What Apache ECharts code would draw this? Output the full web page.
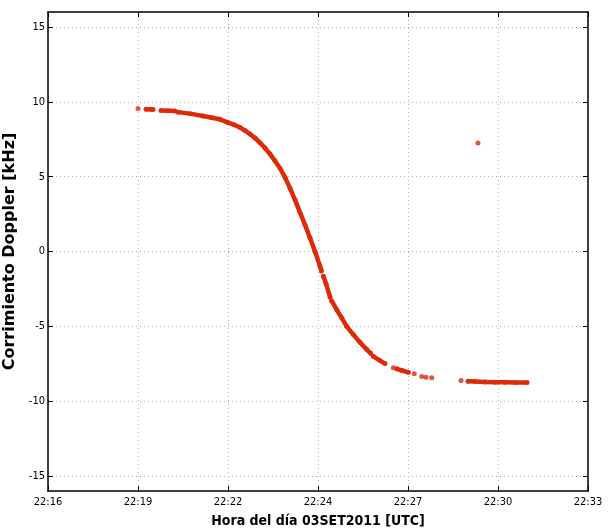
<!DOCTYPE html>
<html lang="es">
<head>
    <meta charset="UTF-8">
    <title>Corrimiento Doppler</title>
    <script src="https://cdn.jsdelivr.net/npm/echarts@6/dist/echarts.min.js"></script>
    <style>
        body { margin: 0; padding: 0; background: #fff; }
        #chart { width: 611px; height: 529px; }
    </style>
</head>
<body>
    <div id="chart"></div>
    <script>
        // hora en minutos despues de las 22:00, null = hueco entre tramos
        const horaMin = [
            18.833, null,
            19.085, 19.211, 19.306, null,
            19.557, 19.778, 19.998, null,
            20.093, 20.470, 20.880, 21.163, 21.415, 21.667, 21.856, 22.044, 22.202, 22.359,
            22.517, 22.674, 22.832, 22.989, 23.147, 23.304, 23.462, 23.618, 23.776, 23.933,
            24.091, 24.248, 24.406, 24.563, 24.610, null,
            24.670, 24.752, 24.880, null,
            24.930, 25.089, 25.250, 25.403, 25.611, 25.822, 26.033, 26.160, null,
            26.241, 26.452, 26.609, null,
            26.871, null,
            26.978, 27.145, 27.343, null,
            27.532, null, 27.765, null, 27.900, null, 28.080, null,
            29.002, null,
            29.222, 29.443, 29.757, 30.072, 30.387, 30.702, 31.080
        ];
        // corrimiento doppler en kHz
        const dopplerKHz = [
            9.55, null,
            9.50, 9.50, 9.49, null,
            9.42, 9.40, 9.38, null,
            9.31, 9.21, 9.05, 8.93, 8.83, 8.61, 8.47, 8.29, 8.08, 7.85,
            7.58, 7.27, 6.91, 6.51, 6.05, 5.56, 4.95, 4.23, 3.45, 2.61,
            1.78, 0.91, 0.00, -0.99, -1.30, null,
            -1.65, -2.15, -3.05, null,
            -3.30, -3.89, -4.45, -5.00, -5.55, -6.07, -6.55, -6.80, null,
            -7.00, -7.29, -7.49, null,
            -7.77, null,
            -7.84, -7.95, -8.07, null,
            -8.17, null, -8.35, null, -8.40, null, -8.44, null,
            -8.62, null,
            -8.67, -8.69, -8.71, -8.73, -8.74, -8.75, -8.75
        ];
        // punto aislado
        const atipicoHora = [29.537];
        const atipicoKHz = [7.25];

        const etiquetasHora = ['22:16', '22:19', '22:22', '22:24', '22:27', '22:30', '22:33'];
        const ticksHora = [16, 18.8333, 21.6667, 24.5, 27.3333, 30.1667, 33];
        const ticksDoppler = [-15, -10, -5, 0, 5, 10, 15];

        const rojo = '#dc2a0a';
        const fuenteEstrecha = "'Liberation Sans Narrow', 'DejaVu Sans Condensed', sans-serif";

        const lineaData = horaMin.map((t, i) => (t === null ? ['-', '-'] : [t, dopplerKHz[i]]));
        const puntosData = horaMin
            .map((t, i) => [t, dopplerKHz[i]])
            .filter(p => p[0] !== null)
            .concat(atipicoHora.map((t, i) => [t, atipicoKHz[i]]));

        const chart = echarts.init(document.getElementById('chart'));

        const gridLine = { show: true, lineStyle: { color: '#b4b4b4', width: 1, type: [1, 3] } };
        const ejeLinea = { show: true, onZero: false, lineStyle: { color: '#000', width: 1.5 } };
        const ejeTick = { show: true, inside: true, length: 5, lineStyle: { color: '#000' } };

        chart.setOption({
            backgroundColor: '#fff',
            animation: false,
            grid: { left: 48, right: 23, top: 12, bottom: 38, containLabel: false, outerBoundsMode: 'none' },
            xAxis: [
                {
                    type: 'value',
                    min: 16,
                    max: 33,
                    axisLine: ejeLinea,
                    axisTick: Object.assign({ customValues: ticksHora }, ejeTick),
                    splitLine: gridLine,
                    axisLabel: {
                        customValues: ticksHora,
                        color: '#000',
                        fontSize: 11,
                        fontFamily: fuenteEstrecha,
                        margin: 6,
                        formatter: v => etiquetasHora[Math.round((v - 16) / (17 / 6))]
                    },
                    name: 'Hora del día 03SET2011 [UTC]',
                    nameLocation: 'middle',
                    nameGap: 23,
                    nameTextStyle: {
                        color: '#000',
                        fontSize: 14,
                        fontWeight: 'bold',
                        fontFamily: fuenteEstrecha
                    }
                },
                {
                    type: 'value',
                    position: 'top',
                    min: 16,
                    max: 33,
                    axisLine: ejeLinea,
                    axisTick: Object.assign({ customValues: ticksHora }, ejeTick),
                    axisLabel: { show: false },
                    splitLine: { show: false }
                }
            ],
            yAxis: [
                {
                    type: 'value',
                    min: -16,
                    max: 16,
                    axisLine: ejeLinea,
                    axisTick: Object.assign({ customValues: ticksDoppler }, ejeTick),
                    splitLine: gridLine,
                    axisLabel: {
                        customValues: ticksDoppler,
                        color: '#000',
                        fontSize: 11,
                        fontFamily: fuenteEstrecha,
                        margin: 3
                    },
                    name: 'Corrimiento Doppler [kHz]',
                    nameLocation: 'middle',
                    nameGap: 16,
                    nameTextStyle: {
                        color: '#000',
                        fontSize: 16,
                        fontWeight: 'bold',
                        fontFamily: 'DejaVu Sans'
                    }
                },
                {
                    type: 'value',
                    position: 'right',
                    min: -16,
                    max: 16,
                    axisLine: ejeLinea,
                    axisTick: Object.assign({ customValues: ticksDoppler }, ejeTick),
                    axisLabel: { show: false },
                    splitLine: { show: false }
                }
            ],
            series: [
                {
                    type: 'line',
                    data: lineaData,
                    showSymbol: false,
                    connectNulls: false,
                    lineStyle: { color: rojo, width: 4.5, cap: 'round', join: 'round' },
                    z: 3
                },
                {
                    type: 'scatter',
                    data: puntosData,
                    symbolSize: 5,
                    itemStyle: { color: rojo },
                    z: 4
                }
            ]
        });
    </script>
</body>
</html>
